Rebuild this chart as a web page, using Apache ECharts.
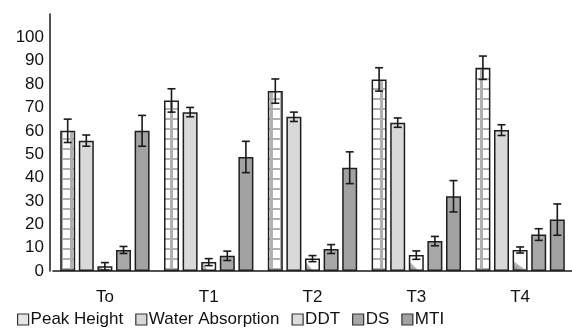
<!DOCTYPE html>
<html><head><meta charset="utf-8">
<script src="https://cdn.jsdelivr.net/npm/echarts@6/dist/echarts.min.js"></script>
<style>html,body{margin:0;padding:0;background:#fff}#c{width:572px;height:330px}</style>
</head><body><div id="c"></div>
<script>
const categories = ['To', 'T1', 'T2', 'T3', 'T4'];
const seriesNames = ['Peak Height', 'Water Absorption', 'DDT', 'DS', 'MTI'];
const peakHeight = [60, 73, 77, 82, 87];
const peakHeightErr = [5, 5, 5.2, 5, 5];
const waterAbsorption = [55.8, 68, 66, 63.5, 60.3];
const waterAbsorptionErr = [2.4, 2, 2, 2, 2.3];
const ddt = [2, 3.8, 5.3, 6.8, 9];
const ddtErr = [1.6, 1.5, 1.3, 1.8, 1.3];
const ds = [9, 6.5, 9.4, 12.8, 15.6];
const dsErr = [1.5, 2, 1.9, 2, 2.5];
const mti = [60, 48.8, 44.2, 32, 22];
const mtiErr = [6.6, 6.7, 6.8, 6.7, 6.7];
const yTicks = [0, 10, 20, 30, 40, 50, 60, 70, 80, 90, 100];

const values = [peakHeight, waterAbsorption, ddt, ds, mti];
const errors = [peakHeightErr, waterAbsorptionErr, ddtErr, dsErr, mtiErr];

// brick pattern for Peak Height
const tile = document.createElement('canvas');
tile.width = 10; tile.height = 10;
const tc = tile.getContext('2d');
tc.fillStyle = '#ffffff'; tc.fillRect(0, 0, 10, 10);
tc.fillStyle = '#b0b0b0';
tc.fillRect(0, 8, 10, 2);
tc.fillRect(0, 0, 3, 10);

const FONT = "'Liberation Sans', Arial, sans-serif";
const BW = 15, GAP = 0.24, PITCH = BW * (1 + GAP);

const fills = [
  { image: tile, repeat: 'repeat' },
  '#d9d9d9',
  { type: 'linear', x: 0, y: 1, x2: 1, y2: 0, colorStops: [
    { offset: 0, color: '#7a7a7a' }, { offset: 0.3, color: '#b8b8b8' },
    { offset: 0.36, color: '#ffffff' }, { offset: 1, color: '#ffffff' } ] },
  '#a8a8a8',
  '#a2a2a2'
];
const legendFills = ['#e6e6e6', '#d9d9d9', '#dcdcdc', '#a8a8a8', '#a2a2a2'];

const series = [];
seriesNames.forEach((n, k) => {
  series.push({
    name: n, type: 'bar', barWidth: BW, barGap: (GAP * 100) + '%',
    data: values[k],
    itemStyle: { color: fills[k], borderColor: '#1e1e1e', borderWidth: 1.5 },
    animation: false
  });
});
seriesNames.forEach((n, k) => {
  series.push({
    type: 'custom', animation: false, z: 5,
    data: categories.map((c, i) => [i, values[k][i] - errors[k][i], values[k][i] + errors[k][i]]),
    renderItem: function (params, api) {
      const i = api.value(0);
      const x = api.coord([i, 0])[0] + (k - 2) * PITCH;
      const yl = api.coord([i, api.value(1)])[1];
      const yh = api.coord([i, api.value(2)])[1];
      const st = { stroke: '#1a1a1a', lineWidth: 1.6 };
      return { type: 'group', children: [
        { type: 'line', shape: { x1: x, y1: yl, x2: x, y2: yh }, style: st },
        { type: 'line', shape: { x1: x - 4, y1: yl, x2: x + 4, y2: yl }, style: st },
        { type: 'line', shape: { x1: x - 4, y1: yh, x2: x + 4, y2: yh }, style: st }
      ] };
    }
  });
});

const chart = echarts.init(document.getElementById('c'));
chart.setOption({
  backgroundColor: '#fff',
  animation: false,
  grid: { left: 53, right: -10, top: 14, bottom: 59 },
  legend: {
    data: seriesNames.map((n, k) => ({ name: n, itemStyle: { color: legendFills[k], borderColor: '#333', borderWidth: 1.2 } })),
    left: 17, top: 311, padding: 0, itemWidth: 11, itemHeight: 11, itemGap: 12, icon: 'rect',
    textStyle: { fontFamily: FONT, fontSize: 17, color: '#111', padding: [0, 0, 0, -3] }
  },
  xAxis: {
    type: 'category', data: categories,
    axisLine: { lineStyle: { color: '#1a1a1a', width: 1.5 } },
    axisTick: { show: false },
    axisLabel: { fontFamily: FONT, fontSize: 17, color: '#111', margin: 18 }
  },
  yAxis: {
    type: 'value', min: 0, max: 110, interval: 10, offset: 3,
    axisLine: { show: true, lineStyle: { color: '#1a1a1a', width: 1.5 } },
    axisTick: { show: false },
    splitLine: { show: false },
    axisLabel: { fontFamily: FONT, fontSize: 17, color: '#111', margin: 6,
      formatter: v => (yTicks.indexOf(v) >= 0 ? String(v) : '') }
  },
  series: series
});
</script></body></html>
